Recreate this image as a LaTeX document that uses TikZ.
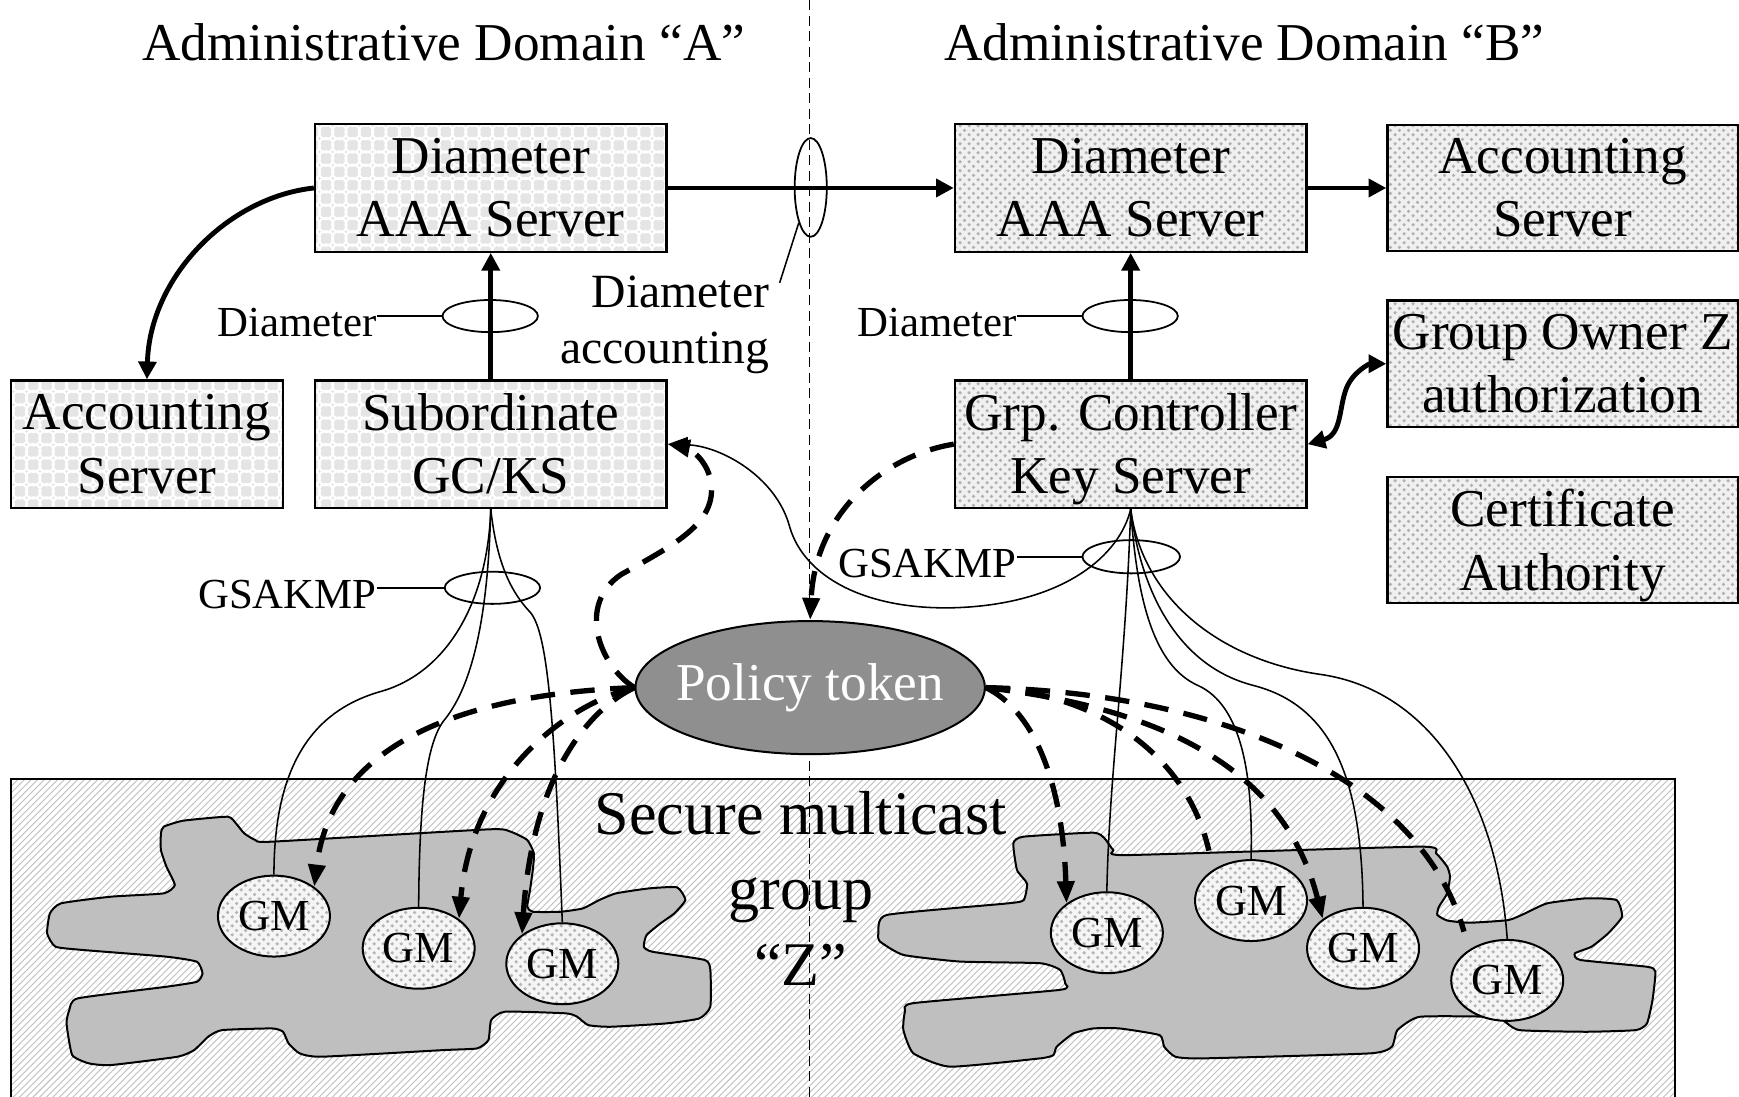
\documentclass[tikz,border=0pt]{standalone}
\usepackage{fontspec}
\setmainfont{Liberation Serif}
\usetikzlibrary{arrows.meta,patterns,shapes.geometric}

\pgfdeclarepatternformonly{chainlink}{\pgfqpoint{-1pt}{-1pt}}{\pgfqpoint{7pt}{7pt}}{\pgfqpoint{6pt}{6pt}}{%
  \pgfsetlinewidth{0.9pt}%
  \pgfpathcircle{\pgfqpoint{3pt}{3pt}}{3.3pt}%
  \pgfusepath{stroke}%
}
\pgfdeclarepatternformonly{speckle}{\pgfqpoint{0pt}{0pt}}{\pgfqpoint{4pt}{4pt}}{\pgfqpoint{4pt}{4pt}}{%
  \pgfpathcircle{\pgfqpoint{1pt}{1pt}}{0.8pt}%
  \pgfpathcircle{\pgfqpoint{3pt}{3pt}}{0.8pt}%
  \pgfusepath{fill}%
}

\tikzset{
 boxbase/.style={draw, line width=1pt, inner sep=0pt, align=center,
   font=\fontsize{24}{28.5}\selectfont, minimum width=158.5pt, minimum height=57.5pt,
   execute at begin node={\rule{0pt}{19pt}}},
 boxA/.style={boxbase, preaction={fill=gray!20}, pattern=chainlink, pattern color=white},
 boxB/.style={boxbase, preaction={fill=gray!12}, pattern=speckle, pattern color=gray!62},
 title/.style={font=\fontsize{24}{28}\selectfont, inner sep=0pt},
 lbl/.style={font=\fontsize{19.3}{22}\selectfont, inner sep=0pt},
 dalbl/.style={font=\fontsize{21.5}{25}\selectfont, inner sep=0pt, align=right},
 linkell/.style={ellipse, draw, line width=0.8pt, inner sep=0pt, minimum width=43pt, minimum height=14.5pt},
 token/.style={ellipse, draw, line width=0.9pt, fill=black!44, text=white, inner ysep=0pt, inner xsep=-10pt,
   minimum width=157.5pt, minimum height=60pt, font=\fontsize{24}{28}\selectfont},
 gm/.style={ellipse, draw, line width=0.9pt, inner sep=0pt, minimum width=50.5pt, minimum height=36.5pt,
   preaction={fill=gray!8}, pattern=speckle, pattern color=gray!58, font=\fontsize{20}{24}\selectfont},
 sectext/.style={align=center, inner sep=0pt, font=\fontsize{28}{34}\selectfont},
 thk/.style={line width=2.2pt, -{Triangle[length=8pt,width=8pt]}},
 thinl/.style={line width=0.7pt},
 thinarrow/.style={line width=0.7pt, -{Triangle[length=9pt,width=7pt]}},
 dsh/.style={line width=2.4pt, dash pattern=on 11pt off 7pt},
 dsharrow/.style={dsh, -{Triangle[length=10pt,width=7.5pt]}},
 vdash/.style={line width=0.6pt, dash pattern=on 4.5pt off 2.5pt},
 blob/.style={draw, line width=0.9pt, fill=black!25},
}

\begin{document}
\begin{tikzpicture}[x=0.5pt,y=-0.5pt]
\useasboundingbox (0,0) rectangle (1568,989);

% secure group area
\path[preaction={fill=white}, pattern=north east lines, pattern color=gray!50] (10,702) rectangle (1510,995);
\draw[line width=0.9pt] (10,995) -- (10,702) -- (1510,702) -- (1510,995);

% left blob
\draw[blob] plot[smooth cycle, tension=0.3] coordinates {
(145.1,751.4) (147.6,745.4) (165.1,740) (205.2,736.4) (212.7,742.4) (220.2,751.4) (230.2,757.4) (245.2,758.9)
(440.4,747.8) (460.4,749.9) (475.4,757.4) (481.4,769.5) (480.4,784.5) (477.9,802.5) (475.4,817.6) (480.4,822.1)
(505.4,822.1) (525.4,819.1) (540.4,811.5) (555.4,805.5) (585.5,801) (610.5,800.1) (618,811.5) (608,823.6)
(595.5,832.6) (583,843.1) (580.5,853.6) (588,858.1) (635.5,865.6) (640.5,874.7) (640.5,907.7) (630.5,918.3)
(600.5,922.8) (550.4,925.8) (530.4,924.3) (520.4,916.8) (510.4,913.7) (455.4,912.2) (442.9,919.8) (440.4,937.8)
(430.3,945.3) (400.3,946.8) (290.2,952.8) (270.2,949.8) (260.2,940.8) (255.2,930.3) (245.2,927.3) (200.2,928.8)
(187.7,934.8) (175.1,946.8) (160.1,952.8) (100.1,960.3) (80.1,958.8) (65.1,951.3) (60,922.8) (62.5,910.7)
(70.1,900.2) (150.1,889.7) (177.6,885.2) (182.6,877.7) (177.6,867.2) (150.1,862.6) (75.1,856.6) (50,853.6)
(42.5,841.6) (45,823.6) (55,814.5) (100.1,808.5) (147.6,805.5) (157.6,798) (150.1,781.5) (145.1,766.5)};

% right blob
\draw[blob] plot[smooth cycle, tension=0.3] coordinates {
(913.7,760.4) (922.8,754.4) (985.9,750.8) (996,756) (1003.9,766.5) (1016,771) (1279.9,763.4) (1294.9,769.5)
(1304.9,781.5) (1307.4,790.5) (1304.9,805.5) (1297.4,817.6) (1296,825) (1305,830) (1324.9,832) (1360,829.6)
(1375,823.6) (1395,814.5) (1430,810) (1457.5,811.5) (1462.5,826.6) (1450,841.6) (1435,853.6) (1420,859.6)
(1425,865.6) (1485,871.7) (1492.6,876) (1490,901.7) (1485,922.8) (1475,928.8) (1430,930.3) (1370,928.8)
(1355,919.8) (1345,916.8) (1280,916.8) (1260,928.8) (1255,943.8) (1235,949.8) (1084.7,954.3) (1059.7,952.8)
(1049.7,943.8) (1045.5,933.3) (1009.4,927.3) (985.9,927.3) (967.8,931.8) (952.8,943.8) (949.8,951.3) (937.8,954.3)
(856.6,961.8) (823.5,949.7) (814.5,928.6) (816,912) (823.5,904.5) (955.9,892.5) (960.4,886.5) (955.9,874.5)
(937.8,868.5) (865.6,867) (814.5,861) (793.5,849) (792,841.6) (799.5,825) (908,814.6) (923,811.6)
(926,796.6) (917,784.5)};

% domain separator
\coordinate (vtop) at (730,0);
\coordinate (vbot) at (730,989);
\draw[vdash] (vtop) -- (vbot);

% titles
\node[title] (tA) at (400,38) {Administrative Domain “A”};
\node[title] (tB) at (1122,38) {Administrative Domain “B”};

% boxes
\node[boxA] (aaaA) at (442.5,169.5) {Diameter\\AAA Server};
\node[boxA, minimum width=122.5pt] (acctA) at (132.5,400.5) {Accounting\\Server};
\node[boxA] (sub) at (442.5,400.5) {Subordinate\\GC/KS};
\node[boxB] (aaaB) at (1019.5,169.5) {Diameter\\AAA Server};
\node[boxB] (gcks) at (1019.5,400.5) {Grp. Controller\\Ke\smash{y} Server};
\node[boxB, minimum width=158pt, minimum height=57pt] (acctB) at (1409,169.5) {Accounting\\Server};
\node[boxB, minimum width=158pt, minimum height=57pt] (go) at (1409,328) {Group Owner Z\\authorization};
\node[boxB, minimum width=158pt, minimum height=57pt] (ca) at (1409,487) {Certificate\\Authorit\smash{y}};

% policy token and group text
\node[token] (tok) at (730.5,620) {Policy token};
\node[sectext] (sec) at (722,801) {Secure multicast\\group\\“Z”};

% group members
\node[gm] (gm1) at (247,826) {GM};
\node[gm] (gm2) at (377.5,855) {GM};
\node[gm] (gm3) at (507,869) {GM};
\node[gm] (gm4) at (998,841) {GM};
\node[gm] (gm5) at (1128,812) {GM};
\node[gm] (gm6) at (1229,855) {GM};
\node[gm] (gm7) at (1359,884) {GM};

% link markers
\node[linkell] (eD1) at (442,285) {};
\node[linkell] (eD2) at (1019,285) {};
\node[linkell] (eG1) at (444,530) {};
\node[linkell, minimum width=44pt, minimum height=15pt] (eG2) at (1020,502) {};
\node[linkell, minimum width=14.5pt, minimum height=44.5pt] (eAcc) at (731,169) {};

% labels
\node[lbl, anchor=east] (lD1) at (340,291) {Diameter};
\node[lbl, anchor=east] (lD2) at (917,291) {Diameter};
\node[lbl, anchor=east] (lG1) at (340,536) {GSAKMP};
\node[lbl, anchor=east] (lG2) at (917,508) {GSAKMP};
\node[dalbl, anchor=east] (lDA) at (694,293) {Diameter\\accounting};
\coordinate (dal) at (703,255);

% leaders
\draw[thinl] (lD1.east |- eD1.west) -- (eD1.west);
\draw[thinl] (lD2.east |- eD2.west) -- (eD2.west);
\draw[thinl] (lG1.east |- eG1.west) -- (eG1.west);
\draw[thinl] (lG2.east |- eG2.west) -- (eG2.west);
\draw[thinl] (eAcc.south west) -- (dal);

% thick Diameter links
\draw[thk] (aaaA.east) -- (aaaB.west);
\draw[thk] (aaaB.east) -- (acctB.west);
\draw[thk] (sub.north) -- (aaaA.south);
\draw[thk] (gcks.north) -- (aaaB.south);
\draw[thk] (aaaA.west) .. controls (205,178) and (135,250) .. (acctA.north);
\draw[line width=2.2pt, {Triangle[length=8pt,width=8pt]}-{Triangle[length=8pt,width=8pt]}]
  (gcks.east) .. controls (1210,392) and (1207,368) .. (1214,350) .. controls (1220,335) and (1235,328) .. (go.west);

% GSAKMP thin links (left)
\draw[thinl] (sub.south) .. controls (440,540) and (405,605) .. (345,623) .. controls (290,638) and (247,680) .. (gm1.north);
\draw[thinl] (sub.south) .. controls (440,560) and (425,620) .. (400,650) .. controls (385,670) and (378,720) .. (gm2.north);
\draw[thinl] (sub.south) .. controls (448,510) and (462,535) .. (478,552) .. controls (494,570) and (500,650) .. (gm3.north);

% GSAKMP thin links (right)
\draw[thinl] (gcks.south) .. controls (1015,600) and (1000,700) .. (gm4.north);
\draw[thinl] (gcks.south) .. controls (1025,540) and (1040,600) .. (1080,618) .. controls (1120,636) and (1130,700) .. (gm5.north);
\draw[thinl] (gcks.south) .. controls (1028,530) and (1060,600) .. (1130,618) .. controls (1200,636) and (1228,700) .. (gm6.north);
\draw[thinl] (gcks.south) .. controls (1030,540) and (1100,595) .. (1190,608) .. controls (1290,622) and (1350,720) .. (gm7.north);
\draw[thinarrow] (gcks.south) .. controls (1010,500) and (960,545) .. (860,548) .. controls (780,550) and (725,520) .. (712,475) .. controls (700,430) and (650,402) .. (sub.east);

% policy token distribution (dashed)
\draw[dsharrow] (gcks.west) .. controls (800,410) and (735,460) .. (tok.north);
\draw[dsharrow] (tok.west) .. controls (540,600) and (520,545) .. (560,518) .. controls (610,490) and (650,470) .. (640,430) .. controls (635,412) and (620,404) .. (sub.east);
\draw[dsharrow] (tok.west) .. controls (440,625) and (300,660) .. (gm1.north east);
\draw[dsharrow] (tok.west) .. controls (510,635) and (425,700) .. (gm2.north east);
\draw[dsharrow] (tok.west) .. controls (530,640) and (480,700) .. (gm3.north west);
\draw[dsharrow] (tok.east) .. controls (930,640) and (958,700) .. (gm4.north west);
\coordinate (e5) at (1090,767);
\draw[dsh] (tok.east) .. controls (990,625) and (1070,680) .. (e5);
\draw[dsharrow] (tok.east) .. controls (1060,640) and (1160,700) .. (gm6.north west);
\coordinate (e7) at (1320,840);
\draw[dsh] (tok.east) .. controls (1100,625) and (1280,700) .. (e7);

\end{tikzpicture}
\end{document}
